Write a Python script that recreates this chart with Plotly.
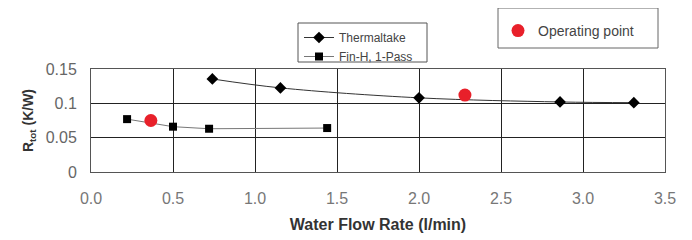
import plotly.graph_objects as go

therm_x = [0.74, 1.155, 2.0, 2.86, 3.31]
therm_y = [0.1355, 0.1225, 0.108, 0.102, 0.101]
finh_x = [0.22, 0.50, 0.72, 1.44]
finh_y = [0.077, 0.066, 0.063, 0.064]
op_x = [0.365, 2.28]
op_y = [0.075, 0.112]
x_ticks = [0.0, 0.5, 1.0, 1.5, 2.0, 2.5, 3.0, 3.5]
y_ticks = [0, 0.05, 0.1, 0.15]
y_tick_labels = ["0", "0.05", "0.1", "0.15"]

# page body has an 8px margin; size figure so that it fits the 692x240 window
W, H = 684, 232
L, T = 83, 61
PW, PH = 574, 103

def px(xf):
    return (xf - L) / PW

def py(yf):
    return 1 + (T - yf) / PH

fig = go.Figure()
fig.add_trace(go.Scatter(x=therm_x, y=therm_y, name="Thermaltake", mode="lines+markers",
                         line=dict(color="#333333", width=1, shape="spline"),
                         marker=dict(symbol="diamond", size=9, color="black"), legend="legend"))
fig.add_trace(go.Scatter(x=finh_x, y=finh_y, name="Fin-H, 1-Pass", mode="lines+markers",
                         line=dict(color="#777777", width=1),
                         marker=dict(symbol="square", size=8, color="black"), legend="legend"))
fig.add_trace(go.Scatter(x=op_x, y=op_y, name="Operating point", mode="markers",
                         marker=dict(symbol="circle", size=13, color="#e8202a"), legend="legend2"))

# legend frames
fig.add_shape(type="rect", xref="paper", yref="paper",
              x0=px(290), x1=px(419), y0=py(54), y1=py(15),
              line=dict(color="#555555", width=1), fillcolor="rgba(0,0,0,0)")
fig.add_shape(type="rect", xref="paper", yref="paper",
              x0=px(490), x1=px(650), y0=py(40), y1=py(0),
              line=dict(color="#666666", width=1), fillcolor="rgba(0,0,0,0)")

fig.update_layout(
    width=W, height=H,
    margin=dict(l=L, r=W - L - PW, t=T, b=H - T - PH, autoexpand=False),
    plot_bgcolor="white", paper_bgcolor="white",
    font=dict(family="Liberation Sans, Arial, sans-serif", color="#222222", size=13),
    showlegend=True,
    legend=dict(x=px(291), y=py(15), xanchor="left", yanchor="top", bgcolor="rgba(0,0,0,0)",
                borderwidth=0, font=dict(size=12, color="#444444"),
                tracegroupgap=0, itemwidth=30),
    legend2=dict(x=px(490), y=py(7), xanchor="left", yanchor="top", bgcolor="rgba(0,0,0,0)",
                 borderwidth=0, font=dict(size=14, color="#444444")),
    xaxis=dict(range=[0, 3.5], tickvals=x_ticks, tickformat=".1f", showgrid=True,
               gridcolor="#222222", gridwidth=1, showline=True, linecolor="#555555", mirror=True,
               zeroline=False, ticks="", tickfont=dict(color="#777777", size=16),
               ticklabelstandoff=12,
               title=dict(text="<b>Water Flow Rate (l/min)</b>", font=dict(size=16, color="#333333"), standoff=12)),
    yaxis=dict(range=[0, 0.15], tickvals=y_ticks, ticktext=y_tick_labels, showgrid=True,
               gridcolor="#222222", gridwidth=1, showline=True, linecolor="#555555", mirror=True,
               zeroline=False, ticks="", tickfont=dict(color="#666666", size=16),
               ticklabelstandoff=10,
               title=dict(text="<b>R<sub>tot</sub> (K/W)</b>", font=dict(size=14, color="#333333"), standoff=8)),
)

fig.write_html("out.html")
